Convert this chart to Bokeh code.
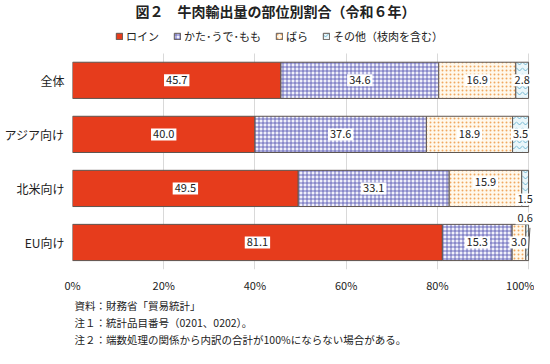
from bokeh.plotting import figure
from bokeh.models import (ColumnDataSource, Range1d, Title, Legend, Label,
                          LegendItem, FixedTicker)
from bokeh.core.properties import value
from bokeh.embed import file_html
from bokeh.resources import INLINE

# ---- data ----
categories = ["全体", "アジア向け", "北米向け", "EU向け"]
series_names = ["ロイン", "かた･うで･もも", "ばら", "その他（枝肉を含む）"]
loin = [45.7, 40.0, 49.5, 81.1]
kata = [34.6, 37.6, 33.1, 15.3]
bara = [16.9, 18.9, 15.9, 3.0]
sonota = [2.8, 3.5, 1.5, 0.6]
x_ticks = [0, 20, 40, 60, 80, 100]
title_text = "図２　牛肉輸出量の部位別割合（令和６年）"
notes = ["資料：財務省「貿易統計」",
         "注１：統計品目番号（0201、0202）。",
         "注２：端数処理の関係から内訳の合計が100%にならない場合がある。"]

values = [loin, kata, bara, sonota]
n = len(categories)
ypos = [n - 1 - i for i in range(n)]  # first category on top

# ---- styles / layout ----
FONT = "Noto Sans CJK JP"
styles = [
    dict(fill_color="#E63C1C", hatch_pattern=None, hatch_color=None),
    dict(fill_color="#F0F0FA", hatch_pattern="cross", hatch_color="#4E4EB0"),
    dict(fill_color="#FFF8EC", hatch_pattern="dot", hatch_color="#F0A860"),
    dict(fill_color="#EAF6FA", hatch_pattern="horizontal_wave", hatch_color="#58A8C8"),
]
label_offsets = {(2, 2): (0, -6), (2, 3): (0, 11), (3, 3): (-2, -24)}
Y_END = n - 0.5 + 0.977     # frame reaches the top of the canvas (title + legend inside)
X_END = 101.3               # a little room right of 100% for the small labels

W, H = 534, 346
p = figure(width=W, height=H, output_backend="svg", toolbar_location=None,
           y_range=Range1d(-0.5, Y_END), x_range=Range1d(0, X_END),
           min_border_left=72, min_border_right=0, min_border_top=0, min_border_bottom=76)
p.outline_line_color = None
p.background_fill_color = "white"
p.border_fill_color = "white"

legend_items = []
lx, ly, ltxt, ldx, ldy = [], [], [], [], []
for si, (vals, st) in enumerate(zip(values, styles)):
    left = [sum(v[ci] for v in values[:si]) for ci in range(n)]
    right = [l + v for l, v in zip(left, vals)]
    src = ColumnDataSource(dict(y=ypos, left=left, right=right))
    kw = dict(fill_color=st["fill_color"], line_color="#5E5550", line_width=1)
    if st["hatch_pattern"]:
        kw.update(hatch_pattern=st["hatch_pattern"], hatch_color=st["hatch_color"],
                  hatch_scale=4 if si != 3 else 6, hatch_weight=0.8)
    r = p.hbar(y="y", left="left", right="right", height=0.67, source=src, **kw)
    legend_items.append(LegendItem(label=series_names[si], renderers=[r]))
    for ci in range(n):
        lx.append((left[ci] + right[ci]) / 2)
        ly.append(ypos[ci])
        ltxt.append(f"{vals[ci]:.1f}")
        dx, dy = label_offsets.get((ci, si), (0, 0))
        ldx.append(dx)
        ldy.append(dy)

lsrc = ColumnDataSource(dict(x=lx, y=ly, t=ltxt, dx=ldx, dy=ldy))
p.text(x="x", y="y", text="t", source=lsrc, x_offset="dx", y_offset="dy",
       text_align="center", text_baseline="middle", text_font_size="11px",
       text_font=value(FONT), text_color="#222222",
       background_fill_color="white", padding=2)

# leader line for the tiny EU value
p.segment(x0=[99.9], y0=[ypos[3] - 0.24], x1=[100.3], y1=[ypos[3] + 0.27],
          line_color="#555555", line_width=1)

# grid limited to the bar area
grid_ok = True
try:
    p.xgrid.cross_bounds = (-0.5, n - 0.5)
except Exception:
    grid_ok = False
if grid_ok:
    p.xgrid.grid_line_color = "#D9D9D9"
else:
    p.xgrid.grid_line_color = None
    p.segment(x0=x_ticks, x1=x_ticks, y0=[-0.5] * len(x_ticks), y1=[n - 0.5] * len(x_ticks),
              line_color="#D9D9D9", line_width=1, level="underlay")
p.ygrid.grid_line_color = None

# axes
p.xaxis.ticker = FixedTicker(ticks=x_ticks)
p.xaxis.major_label_overrides = {t: f"{t}%" for t in x_ticks}
p.xaxis.axis_line_color = None
p.xaxis.major_tick_line_color = None
p.xaxis.minor_tick_line_color = None
p.xaxis.major_tick_out = 0
p.xaxis.major_label_standoff = 7
p.xaxis.major_label_text_font = FONT
p.xaxis.major_label_text_font_size = "11px"
p.xaxis.major_label_text_color = "#222222"
p.yaxis.ticker = FixedTicker(ticks=ypos)
p.yaxis.major_label_overrides = {y: c for y, c in zip(ypos, categories)}
p.yaxis.axis_line_color = None
p.yaxis.major_tick_line_color = None
p.yaxis.minor_tick_line_color = None
p.yaxis.major_tick_out = 0
p.yaxis.major_label_standoff = 8
p.yaxis.major_label_text_font = FONT
p.yaxis.major_label_text_font_size = "12px"
p.yaxis.major_label_text_color = "#222222"

# title (inside the frame, at its top)
p.add_layout(Label(x=44.5, y=Y_END - 0.2, text=title_text, text_align="center",
                   text_baseline="middle", text_font=FONT, text_font_size="14px",
                   text_font_style="bold", text_color="#222222"))

# legend (inside the frame, above the bars)
legend = Legend(items=legend_items, orientation="horizontal", location=(43, 225),
                label_text_font=FONT, label_text_font_size="11px",
                label_text_color="#222222", glyph_width=8, glyph_height=8,
                label_height=14, spacing=14, label_standoff=3, padding=0, margin=0,
                border_line_color=None, background_fill_alpha=0)
p.add_layout(legend, "center")

# notes
for t in notes:
    p.add_layout(Title(text=t, align="left", offset=2, standoff=0,
                       text_font=FONT, text_font_size="10.5px", text_font_style="normal",
                       text_color="#222222"), "below")

open("out.html", "w").write(file_html(p, INLINE))
